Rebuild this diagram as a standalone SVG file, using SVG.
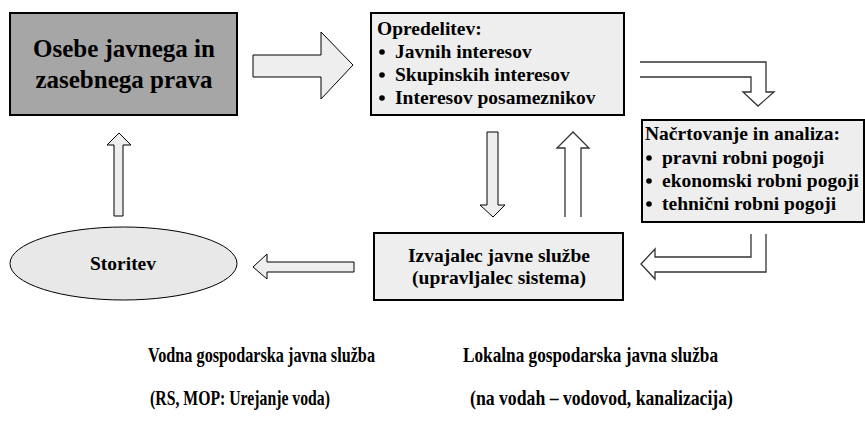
<svg xmlns="http://www.w3.org/2000/svg" width="865" height="427" viewBox="0 0 865 427">
<style>
  text { font-family: "Liberation Serif", "Times New Roman", serif; font-weight: bold; fill: #000; }
  .box { fill: #eeeeee; stroke: #000; stroke-width: 2; }
  .dark { fill: #a6a6a6; stroke: #000; stroke-width: 2; }
  .blk { fill: #eeeeee; stroke: #000; stroke-width: 1; }
  .open { fill: #fff; stroke: #333; stroke-width: 1.3; }
  .t19 { font-size: 19.5px; }
  .t25 { font-size: 25px; }
  .bottom { font-size: 22px; }
</style>
<rect width="865" height="427" fill="#fff"/>

<g id="osebe">
  <rect class="dark" x="10" y="13" width="227" height="102"/>
  <text class="t25" x="124" y="57" text-anchor="middle">Osebe javnega in</text>
  <text class="t25" x="124" y="88" text-anchor="middle">zasebnega prava</text>
</g>

<g id="opredelitev">
  <rect class="box" x="371" y="13" width="253" height="102"/>
  <text class="t19" x="377" y="35">Opredelitev:</text>
  <circle cx="382" cy="52" r="2.8"/>
  <text class="t19" x="395" y="58">Javnih interesov</text>
  <circle cx="382" cy="75" r="2.8"/>
  <text class="t19" x="395" y="81">Skupinskih interesov</text>
  <circle cx="382" cy="98" r="2.8"/>
  <text class="t19" x="395" y="104">Interesov posameznikov</text>
</g>

<g id="nacrtovanje">
  <rect class="box" x="642" y="120" width="222" height="102"/>
  <text class="t19" x="645" y="140">Načrtovanje in analiza:</text>
  <circle cx="649" cy="158" r="2.8"/>
  <text class="t19" x="662" y="164">pravni robni pogoji</text>
  <circle cx="649" cy="181" r="2.8"/>
  <text class="t19" x="662" y="187">ekonomski robni pogoji</text>
  <circle cx="649" cy="204" r="2.8"/>
  <text class="t19" x="662" y="210">tehnični robni pogoji</text>
</g>

<g id="izvajalec">
  <rect class="box" x="374" y="233" width="249" height="67"/>
  <text class="t19" x="499" y="262" text-anchor="middle">Izvajalec javne službe</text>
  <text class="t19" x="499" y="284" text-anchor="middle">(upravljalec sistema)</text>
</g>

<g id="storitev">
  <ellipse cx="123.5" cy="263.5" rx="113.5" ry="36.5" fill="#e8e8e8" stroke="#000" stroke-width="1"/>
  <text class="t19" x="123" y="270" text-anchor="middle">Storitev</text>
</g>

<g id="connectors">
  <polygon class="blk" points="253,55 321,55 321,32 353,65 321,99 321,77 253,77"/>
  <path class="open" d="M640,62 H766 V92 H774 L758,106 L743,92 H751 V77 H640"/>
  <path class="open" d="M751,234 V257 H655 V249 L641,264 L655,279 V272 H766 V234"/>
  <polygon class="blk" points="487,132 498,132 498,205 505,205 493,217 480,205 487,205"/>
  <path class="open" d="M565,217 V148 H557 L573,132 L589,148 H581 V217"/>
  <polygon class="blk" points="354,262 267,262 267,254 253,267 267,279 267,272 354,272"/>
  <polygon class="blk" points="114,216 114,145 107,145 119,133 131,145 123,145 123,216"/>
</g>

<g id="labels">
  <text class="bottom" x="148" y="362" textLength="227" lengthAdjust="spacingAndGlyphs">Vodna gospodarska javna služba</text>
  <text class="bottom" x="150" y="405" textLength="180" lengthAdjust="spacingAndGlyphs">(RS, MOP: Urejanje voda)</text>
  <text class="bottom" x="463" y="362" textLength="255" lengthAdjust="spacingAndGlyphs">Lokalna gospodarska javna služba</text>
  <text class="bottom" x="470" y="405" textLength="263" lengthAdjust="spacingAndGlyphs">(na vodah – vodovod, kanalizacija)</text>
</g>
</svg>
